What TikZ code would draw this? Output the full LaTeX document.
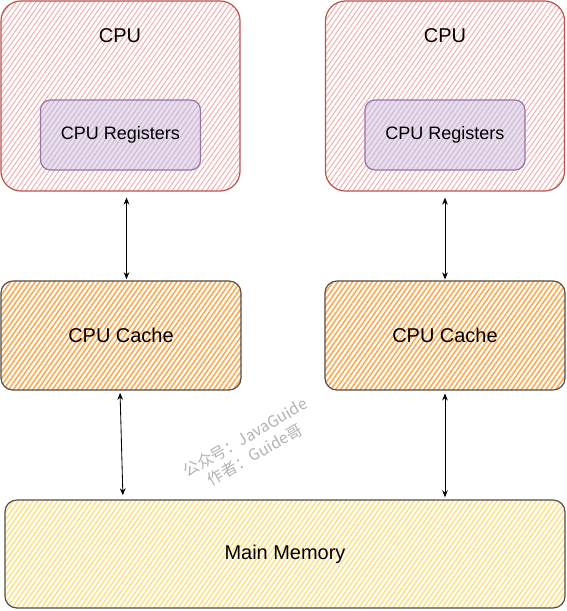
\documentclass[tikz,border=0pt]{standalone}
\usepackage{fontspec}
\setmainfont{Liberation Sans}
\newfontfamily\cjk{Noto Sans CJK SC}
\usepackage{tikz}
\usetikzlibrary{patterns.meta,arrows.meta}

\definecolor{cpuline}{HTML}{B85450}
\definecolor{cpuhatch}{HTML}{F2AEAC}
\definecolor{regline}{HTML}{9673A6}
\definecolor{regfill}{HTML}{E8DEEC}
\definecolor{reghatch}{HTML}{CDB8D6}
\definecolor{cachehatch}{HTML}{FFA64A}
\definecolor{memhatch}{HTML}{FFDF7A}
\definecolor{boxline}{HTML}{4D4D4D}

\begin{document}
\begin{tikzpicture}[x=0.025cm, y=-0.025cm,
        cpubox/.style={draw=cpuline, line width=0.85pt, rounded corners=0.5cm,
            pattern={Lines[angle=55,distance=0.1cm,line width=0.7pt]}, pattern color=cpuhatch,
            minimum width=5.975cm, minimum height=4.75cm},
        regbox/.style={draw=regline, line width=0.85pt, rounded corners=0.25cm,
            preaction={fill=regfill},
            pattern={Lines[angle=55,distance=0.1cm,line width=0.7pt]}, pattern color=reghatch,
            minimum width=4cm, minimum height=1.75cm, font=\fontsize{12.8}{15}\selectfont},
        cachebox/.style={draw=boxline, line width=0.85pt, rounded corners=0.3cm,
            pattern={Lines[angle=55,distance=0.1cm,line width=1.1pt]}, pattern color=cachehatch,
            minimum width=6cm, minimum height=2.725cm, font=\fontsize{14.2}{17}\selectfont},
        membox/.style={draw=boxline, line width=0.85pt, rounded corners=0.3cm,
            pattern={Lines[angle=55,distance=0.1cm,line width=1.0pt]}, pattern color=memhatch,
            minimum width=14cm, minimum height=2.7cm, font=\fontsize{14.2}{17}\selectfont},
        link/.style={{Stealth[length=5pt,width=4pt]}-{Stealth[length=5pt,width=4pt]}, line width=0.6pt}]
                \useasboundingbox (0, 0) rectangle (566, 611);

                \node [cpubox] (cpuL) at (120.5, 96) {};
                \node [cpubox] (cpuR) at (445, 96) {};
                \node [font=\fontsize{14.2}{17}\selectfont] (cpuLtext) at (120, 36) {CPU};
                \node [font=\fontsize{14.2}{17}\selectfont] (cpuRtext) at (445, 36) {CPU};

                \node [regbox] (regL) at (120.5, 135) {\raisebox{-2pt}{CPU Registers}};
                \node [regbox] (regR) at (445, 135) {\raisebox{-2pt}{CPU Registers}};

                \node [cachebox] (cacheL) at (121, 335.5) {CPU Cache};
                \node [cachebox] (cacheR) at (445, 335.5) {CPU Cache};

                \node [membox] (mem) at (285, 554) {\raisebox{-2pt}{Main Memory}};

                \draw [link, shorten <=0.15cm, shorten >=0.025cm] ([xshift=0.15cm]cpuL.south) to ([xshift=0.15cm]cpuL.south |- cacheL.north);
                \draw [link, shorten <=0.15cm, shorten >=0.025cm] (cpuR.south) to (cpuR.south |- cacheR.north);
                \draw [link, shorten <=0.05cm, shorten >=0.1cm] ([xshift=-0.025cm]cacheL.south) to ([xshift=0.05cm]cacheL.south |- mem.north);
                \draw [link, shorten <=0.07cm, shorten >=0.05cm] (cacheR.south) to (cacheR.south |- mem.north);

                \node [rotate=30, align=center, text=black!30, font=\cjk\fontsize{11.2}{14}\selectfont] (mark) at (250, 446) {公众号：JavaGuide\\作者：Guide哥};
            \end{tikzpicture}
\end{document}
